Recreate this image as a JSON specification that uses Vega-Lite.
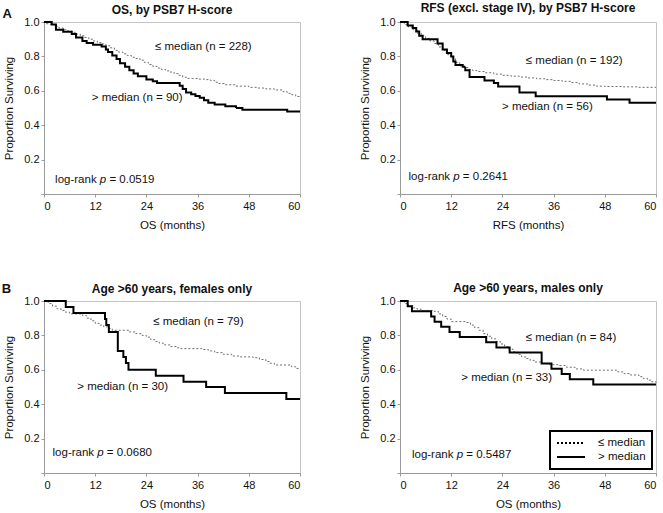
{
  "$schema": "https://vega.github.io/schema/vega-lite/v6.json",
  "padding": {"left": 1, "top": 1, "right": 0, "bottom": 0},
  "background": "white",
  "config": {
    "font": "Liberation Sans",
    "view": {"stroke": "#c4c4c4", "strokeWidth": 1},
    "title": {"font": "Liberation Sans", "fontSize": 12, "fontWeight": "bold", "color": "#111", "frame": "group"},
    "legend": {"strokeWidth": 2},
    "axis": {"grid": false, "domainColor": "#9a9a9a", "tickColor": "#9a9a9a", "tickSize": 3, "labelFont": "Liberation Sans", "labelFontSize": 11, "labelColor": "#111", "titleFont": "Liberation Sans", "titleFontSize": 11.5, "titleFontWeight": "normal", "titleColor": "#111"},
    "axisY": {"labelPadding": 2, "titlePadding": 9, "labelExpr": "datum.value > 0.05 ? format(datum.value, '.1f') : ''"},
    "axisX": {"labelPadding": 3, "titlePadding": 8},
    "text": {"font": "Liberation Sans", "fontSize": 11.5, "color": "#111", "align": "left", "baseline": "middle"}
  },
  "datasets": {
    "km": [
      {"p":1,"g":"≤ median","t":0,"s":1},{"p":1,"g":"≤ median","t":0.5,"s":0.99},{"p":1,"g":"≤ median","t":1.5,"s":0.985},{"p":1,"g":"≤ median","t":2.5,"s":0.975},{"p":1,"g":"≤ median","t":3.5,"s":0.965},{"p":1,"g":"≤ median","t":4.5,"s":0.955},{"p":1,"g":"≤ median","t":5.5,"s":0.948},{"p":1,"g":"≤ median","t":6.5,"s":0.94},{"p":1,"g":"≤ median","t":7.5,"s":0.93},{"p":1,"g":"≤ median","t":8.5,"s":0.92},{"p":1,"g":"≤ median","t":9.5,"s":0.91},{"p":1,"g":"≤ median","t":10.5,"s":0.9},{"p":1,"g":"≤ median","t":11.5,"s":0.89},{"p":1,"g":"≤ median","t":12.5,"s":0.88},{"p":1,"g":"≤ median","t":13.5,"s":0.872},{"p":1,"g":"≤ median","t":14.5,"s":0.862},{"p":1,"g":"≤ median","t":15.5,"s":0.85},{"p":1,"g":"≤ median","t":16.5,"s":0.835},{"p":1,"g":"≤ median","t":17.5,"s":0.825},{"p":1,"g":"≤ median","t":18.5,"s":0.815},{"p":1,"g":"≤ median","t":19.5,"s":0.805},{"p":1,"g":"≤ median","t":20.5,"s":0.795},{"p":1,"g":"≤ median","t":21.5,"s":0.788},{"p":1,"g":"≤ median","t":22.5,"s":0.778},{"p":1,"g":"≤ median","t":23.5,"s":0.765},{"p":1,"g":"≤ median","t":24.5,"s":0.753},{"p":1,"g":"≤ median","t":25.5,"s":0.742},{"p":1,"g":"≤ median","t":26.5,"s":0.732},{"p":1,"g":"≤ median","t":27.5,"s":0.724},{"p":1,"g":"≤ median","t":28.5,"s":0.716},{"p":1,"g":"≤ median","t":29.5,"s":0.709},{"p":1,"g":"≤ median","t":30.5,"s":0.7},{"p":1,"g":"≤ median","t":31.5,"s":0.69},{"p":1,"g":"≤ median","t":32.5,"s":0.679},{"p":1,"g":"≤ median","t":33.5,"s":0.672},{"p":1,"g":"≤ median","t":36,"s":0.668},{"p":1,"g":"≤ median","t":38,"s":0.665},{"p":1,"g":"≤ median","t":39,"s":0.66},{"p":1,"g":"≤ median","t":40,"s":0.65},{"p":1,"g":"≤ median","t":41,"s":0.642},{"p":1,"g":"≤ median","t":42.5,"s":0.635},{"p":1,"g":"≤ median","t":45,"s":0.627},{"p":1,"g":"≤ median","t":48,"s":0.62},{"p":1,"g":"≤ median","t":50,"s":0.616},{"p":1,"g":"≤ median","t":52,"s":0.611},{"p":1,"g":"≤ median","t":54,"s":0.605},{"p":1,"g":"≤ median","t":56,"s":0.595},{"p":1,"g":"≤ median","t":57,"s":0.585},{"p":1,"g":"≤ median","t":58,"s":0.577},{"p":1,"g":"≤ median","t":59,"s":0.567},{"p":1,"g":"≤ median","t":60,"s":0.56},
      {"p":1,"g":"> median","t":0,"s":1},{"p":1,"g":"> median","t":1.8,"s":0.985},{"p":1,"g":"> median","t":2.8,"s":0.955},{"p":1,"g":"> median","t":4.5,"s":0.943},{"p":1,"g":"> median","t":6.5,"s":0.93},{"p":1,"g":"> median","t":7.5,"s":0.91},{"p":1,"g":"> median","t":9,"s":0.89},{"p":1,"g":"> median","t":10,"s":0.878},{"p":1,"g":"> median","t":11.5,"s":0.868},{"p":1,"g":"> median","t":13.5,"s":0.858},{"p":1,"g":"> median","t":14.5,"s":0.84},{"p":1,"g":"> median","t":15,"s":0.825},{"p":1,"g":"> median","t":16,"s":0.805},{"p":1,"g":"> median","t":17,"s":0.785},{"p":1,"g":"> median","t":17.8,"s":0.76},{"p":1,"g":"> median","t":19,"s":0.74},{"p":1,"g":"> median","t":20,"s":0.72},{"p":1,"g":"> median","t":21,"s":0.7},{"p":1,"g":"> median","t":22,"s":0.685},{"p":1,"g":"> median","t":24,"s":0.665},{"p":1,"g":"> median","t":25.5,"s":0.655},{"p":1,"g":"> median","t":26.5,"s":0.645},{"p":1,"g":"> median","t":31.8,"s":0.63},{"p":1,"g":"> median","t":32.5,"s":0.61},{"p":1,"g":"> median","t":33.3,"s":0.59},{"p":1,"g":"> median","t":34.5,"s":0.58},{"p":1,"g":"> median","t":35.5,"s":0.57},{"p":1,"g":"> median","t":36.5,"s":0.56},{"p":1,"g":"> median","t":37.5,"s":0.545},{"p":1,"g":"> median","t":38.5,"s":0.53},{"p":1,"g":"> median","t":40,"s":0.52},{"p":1,"g":"> median","t":42.5,"s":0.51},{"p":1,"g":"> median","t":45,"s":0.5},{"p":1,"g":"> median","t":46.5,"s":0.49},{"p":1,"g":"> median","t":57,"s":0.48},{"p":1,"g":"> median","t":60,"s":0.48},
      {"p":2,"g":"≤ median","t":0,"s":1},{"p":2,"g":"≤ median","t":1,"s":0.985},{"p":2,"g":"≤ median","t":2,"s":0.97},{"p":2,"g":"≤ median","t":3,"s":0.955},{"p":2,"g":"≤ median","t":4,"s":0.935},{"p":2,"g":"≤ median","t":5,"s":0.92},{"p":2,"g":"≤ median","t":6,"s":0.905},{"p":2,"g":"≤ median","t":7,"s":0.89},{"p":2,"g":"≤ median","t":8,"s":0.875},{"p":2,"g":"≤ median","t":9,"s":0.855},{"p":2,"g":"≤ median","t":10,"s":0.835},{"p":2,"g":"≤ median","t":11,"s":0.81},{"p":2,"g":"≤ median","t":12,"s":0.79},{"p":2,"g":"≤ median","t":13,"s":0.765},{"p":2,"g":"≤ median","t":14,"s":0.745},{"p":2,"g":"≤ median","t":15,"s":0.735},{"p":2,"g":"≤ median","t":16,"s":0.725},{"p":2,"g":"≤ median","t":17,"s":0.718},{"p":2,"g":"≤ median","t":18,"s":0.712},{"p":2,"g":"≤ median","t":20,"s":0.705},{"p":2,"g":"≤ median","t":22,"s":0.697},{"p":2,"g":"≤ median","t":24,"s":0.69},{"p":2,"g":"≤ median","t":26,"s":0.685},{"p":2,"g":"≤ median","t":28,"s":0.68},{"p":2,"g":"≤ median","t":30,"s":0.675},{"p":2,"g":"≤ median","t":32,"s":0.67},{"p":2,"g":"≤ median","t":34,"s":0.665},{"p":2,"g":"≤ median","t":36,"s":0.66},{"p":2,"g":"≤ median","t":38,"s":0.655},{"p":2,"g":"≤ median","t":40,"s":0.648},{"p":2,"g":"≤ median","t":42,"s":0.64},{"p":2,"g":"≤ median","t":44,"s":0.633},{"p":2,"g":"≤ median","t":46,"s":0.627},{"p":2,"g":"≤ median","t":48,"s":0.625},{"p":2,"g":"≤ median","t":52,"s":0.623},{"p":2,"g":"≤ median","t":56,"s":0.62},{"p":2,"g":"≤ median","t":60,"s":0.62},
      {"p":2,"g":"> median","t":0,"s":1},{"p":2,"g":"> median","t":1.8,"s":0.98},{"p":2,"g":"> median","t":3,"s":0.965},{"p":2,"g":"> median","t":3.8,"s":0.945},{"p":2,"g":"> median","t":4.5,"s":0.92},{"p":2,"g":"> median","t":5.3,"s":0.9},{"p":2,"g":"> median","t":8.8,"s":0.875},{"p":2,"g":"> median","t":10,"s":0.84},{"p":2,"g":"> median","t":11,"s":0.82},{"p":2,"g":"> median","t":12,"s":0.8},{"p":2,"g":"> median","t":12.5,"s":0.77},{"p":2,"g":"> median","t":13,"s":0.75},{"p":2,"g":"> median","t":14.7,"s":0.74},{"p":2,"g":"> median","t":15.3,"s":0.72},{"p":2,"g":"> median","t":16.3,"s":0.68},{"p":2,"g":"> median","t":19.8,"s":0.66},{"p":2,"g":"> median","t":22,"s":0.645},{"p":2,"g":"> median","t":23,"s":0.625},{"p":2,"g":"> median","t":28,"s":0.59},{"p":2,"g":"> median","t":31.8,"s":0.568},{"p":2,"g":"> median","t":48.5,"s":0.55},{"p":2,"g":"> median","t":53.8,"s":0.53},{"p":2,"g":"> median","t":60,"s":0.53},
      {"p":3,"g":"≤ median","t":0,"s":1},{"p":3,"g":"≤ median","t":1,"s":0.985},{"p":3,"g":"≤ median","t":2,"s":0.97},{"p":3,"g":"≤ median","t":3,"s":0.955},{"p":3,"g":"≤ median","t":4,"s":0.945},{"p":3,"g":"≤ median","t":5,"s":0.935},{"p":3,"g":"≤ median","t":6,"s":0.925},{"p":3,"g":"≤ median","t":9,"s":0.915},{"p":3,"g":"≤ median","t":10,"s":0.9},{"p":3,"g":"≤ median","t":11,"s":0.885},{"p":3,"g":"≤ median","t":12,"s":0.87},{"p":3,"g":"≤ median","t":13,"s":0.86},{"p":3,"g":"≤ median","t":14,"s":0.85},{"p":3,"g":"≤ median","t":15,"s":0.84},{"p":3,"g":"≤ median","t":16,"s":0.83},{"p":3,"g":"≤ median","t":20,"s":0.82},{"p":3,"g":"≤ median","t":21.5,"s":0.81},{"p":3,"g":"≤ median","t":23,"s":0.8},{"p":3,"g":"≤ median","t":24,"s":0.79},{"p":3,"g":"≤ median","t":25,"s":0.775},{"p":3,"g":"≤ median","t":26,"s":0.765},{"p":3,"g":"≤ median","t":27,"s":0.755},{"p":3,"g":"≤ median","t":28,"s":0.745},{"p":3,"g":"≤ median","t":29.5,"s":0.735},{"p":3,"g":"≤ median","t":31,"s":0.728},{"p":3,"g":"≤ median","t":32,"s":0.723},{"p":3,"g":"≤ median","t":37,"s":0.718},{"p":3,"g":"≤ median","t":38.5,"s":0.71},{"p":3,"g":"≤ median","t":40,"s":0.7},{"p":3,"g":"≤ median","t":42,"s":0.69},{"p":3,"g":"≤ median","t":44,"s":0.68},{"p":3,"g":"≤ median","t":46,"s":0.675},{"p":3,"g":"≤ median","t":49,"s":0.67},{"p":3,"g":"≤ median","t":50.5,"s":0.66},{"p":3,"g":"≤ median","t":52,"s":0.648},{"p":3,"g":"≤ median","t":53,"s":0.638},{"p":3,"g":"≤ median","t":54,"s":0.628},{"p":3,"g":"≤ median","t":58,"s":0.618},{"p":3,"g":"≤ median","t":59,"s":0.608},{"p":3,"g":"≤ median","t":60,"s":0.605},
      {"p":3,"g":"> median","t":0,"s":1},{"p":3,"g":"> median","t":5.1,"s":0.965},{"p":3,"g":"> median","t":6.9,"s":0.93},{"p":3,"g":"> median","t":14.3,"s":0.895},{"p":3,"g":"> median","t":14.6,"s":0.86},{"p":3,"g":"> median","t":15.2,"s":0.82},{"p":3,"g":"> median","t":17.3,"s":0.71},{"p":3,"g":"> median","t":18.6,"s":0.675},{"p":3,"g":"> median","t":19.2,"s":0.64},{"p":3,"g":"> median","t":19.8,"s":0.6},{"p":3,"g":"> median","t":26.2,"s":0.565},{"p":3,"g":"> median","t":32.7,"s":0.53},{"p":3,"g":"> median","t":38,"s":0.5},{"p":3,"g":"> median","t":42.4,"s":0.465},{"p":3,"g":"> median","t":56.8,"s":0.43},{"p":3,"g":"> median","t":60,"s":0.43},
      {"p":4,"g":"≤ median","t":0,"s":1},{"p":4,"g":"≤ median","t":1,"s":0.985},{"p":4,"g":"≤ median","t":2,"s":0.972},{"p":4,"g":"≤ median","t":3,"s":0.96},{"p":4,"g":"≤ median","t":4,"s":0.952},{"p":4,"g":"≤ median","t":5,"s":0.945},{"p":4,"g":"≤ median","t":8,"s":0.94},{"p":4,"g":"≤ median","t":9,"s":0.925},{"p":4,"g":"≤ median","t":10,"s":0.91},{"p":4,"g":"≤ median","t":11,"s":0.895},{"p":4,"g":"≤ median","t":12,"s":0.88},{"p":4,"g":"≤ median","t":15.5,"s":0.875},{"p":4,"g":"≤ median","t":16.5,"s":0.86},{"p":4,"g":"≤ median","t":17.5,"s":0.845},{"p":4,"g":"≤ median","t":18.5,"s":0.83},{"p":4,"g":"≤ median","t":19.5,"s":0.81},{"p":4,"g":"≤ median","t":20.5,"s":0.795},{"p":4,"g":"≤ median","t":21.5,"s":0.78},{"p":4,"g":"≤ median","t":22.5,"s":0.765},{"p":4,"g":"≤ median","t":23.5,"s":0.75},{"p":4,"g":"≤ median","t":24.5,"s":0.735},{"p":4,"g":"≤ median","t":25.5,"s":0.72},{"p":4,"g":"≤ median","t":26.5,"s":0.705},{"p":4,"g":"≤ median","t":27.5,"s":0.69},{"p":4,"g":"≤ median","t":28.5,"s":0.675},{"p":4,"g":"≤ median","t":29.5,"s":0.665},{"p":4,"g":"≤ median","t":30.5,"s":0.655},{"p":4,"g":"≤ median","t":31.5,"s":0.645},{"p":4,"g":"≤ median","t":33,"s":0.637},{"p":4,"g":"≤ median","t":35,"s":0.63},{"p":4,"g":"≤ median","t":37,"s":0.625},{"p":4,"g":"≤ median","t":39,"s":0.615},{"p":4,"g":"≤ median","t":41,"s":0.605},{"p":4,"g":"≤ median","t":43,"s":0.598},{"p":4,"g":"≤ median","t":51,"s":0.588},{"p":4,"g":"≤ median","t":52.5,"s":0.578},{"p":4,"g":"≤ median","t":54,"s":0.57},{"p":4,"g":"≤ median","t":56,"s":0.56},{"p":4,"g":"≤ median","t":57,"s":0.55},{"p":4,"g":"≤ median","t":58,"s":0.54},{"p":4,"g":"≤ median","t":59,"s":0.53},{"p":4,"g":"≤ median","t":60,"s":0.525},
      {"p":4,"g":"> median","t":0,"s":1},{"p":4,"g":"> median","t":1.8,"s":0.97},{"p":4,"g":"> median","t":2.8,"s":0.94},{"p":4,"g":"> median","t":7.3,"s":0.91},{"p":4,"g":"> median","t":8.1,"s":0.88},{"p":4,"g":"> median","t":9.65,"s":0.85},{"p":4,"g":"> median","t":11.6,"s":0.82},{"p":4,"g":"> median","t":14,"s":0.79},{"p":4,"g":"> median","t":20.2,"s":0.76},{"p":4,"g":"> median","t":22.6,"s":0.73},{"p":4,"g":"> median","t":25.7,"s":0.7},{"p":4,"g":"> median","t":33.2,"s":0.636},{"p":4,"g":"> median","t":35.5,"s":0.606},{"p":4,"g":"> median","t":37.9,"s":0.576},{"p":4,"g":"> median","t":39.8,"s":0.545},{"p":4,"g":"> median","t":45.3,"s":0.515},{"p":4,"g":"> median","t":60,"s":0.515}
    ]
  },
  "columns": 2,
  "bounds": "flush",
  "spacing": {"row": 107, "column": 100},
  "resolve": {"scale": {"strokeDash": "independent"}, "legend": {"strokeDash": "independent"}},
  "concat": [
    {
      "width": 256, "height": 172,
      "title": {"text": "OS, by PSB7 H-score", "offset": -9},
      "layer": [
        {
          "data": {"name": "km"},
          "transform": [{"filter": "datum.p === 1"}],
          "mark": {"type": "line", "interpolate": "step-after"},
          "encoding": {
            "x": {"field": "t", "type": "quantitative", "scale": {"domain": [0, 60], "nice": false}, "axis": {"title": "OS (months)", "values": [0, 6, 12, 18, 24, 30, 36, 42, 48, 54, 60], "labelExpr": "datum.value % 12 === 0 ? datum.label : ''"}},
            "y": {"field": "s", "type": "quantitative", "scale": {"domain": [0, 1], "nice": false}, "axis": {"title": "Proportion Surviving", "tickCount": 5}},
            "strokeDash": {"field": "g", "type": "nominal", "scale": {"domain": ["≤ median", "> median"], "range": [[2, 2], [1, 0]]}, "legend": null},
            "color": {"condition": {"test": "datum.g === '> median'", "value": "#000"}, "value": "#6e6e6e"},
            "strokeWidth": {"condition": {"test": "datum.g === '> median'", "value": 2}, "value": 1}
          }
        },
        {"data": {"values": [{}]}, "mark": {"type": "text", "text": "≤ median (n = 228)"}, "encoding": {"x": {"datum": 26}, "y": {"datum": 0.853}}},
        {"data": {"values": [{}]}, "mark": {"type": "text", "text": "> median (n = 90)"}, "encoding": {"x": {"datum": 11.2}, "y": {"datum": 0.558}}},
        {"data": {"values": [{}]}, "mark": {"type": "text", "text": "log-rank"}, "encoding": {"x": {"datum": 2.6}, "y": {"datum": 0.083}}},
        {"data": {"values": [{}]}, "mark": {"type": "text", "text": "p", "fontStyle": "italic", "dx": 44.7}, "encoding": {"x": {"datum": 2.6}, "y": {"datum": 0.083}}},
        {"data": {"values": [{}]}, "mark": {"type": "text", "text": "= 0.0519", "dx": 54.3}, "encoding": {"x": {"datum": 2.6}, "y": {"datum": 0.083}}},
        {"data": {"values": [{}]}, "mark": {"type": "text", "text": "A", "fontWeight": "bold", "fontSize": 13, "align": "center"}, "encoding": {"x": {"datum": -8.6}, "y": {"datum": 1.047}}}
      ]
    },
    {
      "width": 256, "height": 172,
      "title": {"text": "RFS (excl. stage IV), by PSB7 H-score", "offset": 1},
      "layer": [
        {
          "data": {"name": "km"},
          "transform": [{"filter": "datum.p === 2"}],
          "mark": {"type": "line", "interpolate": "step-after"},
          "encoding": {
            "x": {"field": "t", "type": "quantitative", "scale": {"domain": [0, 60], "nice": false}, "axis": {"title": "RFS (months)", "values": [0, 6, 12, 18, 24, 30, 36, 42, 48, 54, 60], "labelExpr": "datum.value % 12 === 0 ? datum.label : ''"}},
            "y": {"field": "s", "type": "quantitative", "scale": {"domain": [0, 1], "nice": false}, "axis": {"title": "Proportion Surviving", "tickCount": 5}},
            "strokeDash": {"field": "g", "type": "nominal", "scale": {"domain": ["≤ median", "> median"], "range": [[2, 2], [1, 0]]}, "legend": null},
            "color": {"condition": {"test": "datum.g === '> median'", "value": "#000"}, "value": "#6e6e6e"},
            "strokeWidth": {"condition": {"test": "datum.g === '> median'", "value": 2}, "value": 1}
          }
        },
        {"data": {"values": [{}]}, "mark": {"type": "text", "text": "≤ median (n = 192)"}, "encoding": {"x": {"datum": 29.5}, "y": {"datum": 0.775}}},
        {"data": {"values": [{}]}, "mark": {"type": "text", "text": "> median (n = 56)"}, "encoding": {"x": {"datum": 23.9}, "y": {"datum": 0.504}}},
        {"data": {"values": [{}]}, "mark": {"type": "text", "text": "log-rank"}, "encoding": {"x": {"datum": 2.0}, "y": {"datum": 0.097}}},
        {"data": {"values": [{}]}, "mark": {"type": "text", "text": "p", "fontStyle": "italic", "dx": 44.7}, "encoding": {"x": {"datum": 2.0}, "y": {"datum": 0.097}}},
        {"data": {"values": [{}]}, "mark": {"type": "text", "text": "= 0.2641", "dx": 54.3}, "encoding": {"x": {"datum": 2.0}, "y": {"datum": 0.097}}}
      ]
    },
    {
      "width": 256, "height": 172,
      "title": {"text": "Age >60 years, females only", "offset": -13},
      "layer": [
        {
          "data": {"name": "km"},
          "transform": [{"filter": "datum.p === 3"}],
          "mark": {"type": "line", "interpolate": "step-after"},
          "encoding": {
            "x": {"field": "t", "type": "quantitative", "scale": {"domain": [0, 60], "nice": false}, "axis": {"title": "OS (months)", "values": [0, 6, 12, 18, 24, 30, 36, 42, 48, 54, 60], "labelExpr": "datum.value % 12 === 0 ? datum.label : ''"}},
            "y": {"field": "s", "type": "quantitative", "scale": {"domain": [0, 1], "nice": false}, "axis": {"title": "Proportion Surviving", "tickCount": 5}},
            "strokeDash": {"field": "g", "type": "nominal", "scale": {"domain": ["≤ median", "> median"], "range": [[2, 2], [1, 0]]}, "legend": null},
            "color": {"condition": {"test": "datum.g === '> median'", "value": "#000"}, "value": "#6e6e6e"},
            "strokeWidth": {"condition": {"test": "datum.g === '> median'", "value": 2}, "value": 1}
          }
        },
        {"data": {"values": [{}]}, "mark": {"type": "text", "text": "≤ median (n = 79)"}, "encoding": {"x": {"datum": 25.6}, "y": {"datum": 0.878}}},
        {"data": {"values": [{}]}, "mark": {"type": "text", "text": "> median (n = 30)"}, "encoding": {"x": {"datum": 7.8}, "y": {"datum": 0.5}}},
        {"data": {"values": [{}]}, "mark": {"type": "text", "text": "log-rank"}, "encoding": {"x": {"datum": 2.0}, "y": {"datum": 0.116}}},
        {"data": {"values": [{}]}, "mark": {"type": "text", "text": "p", "fontStyle": "italic", "dx": 44.7}, "encoding": {"x": {"datum": 2.0}, "y": {"datum": 0.116}}},
        {"data": {"values": [{}]}, "mark": {"type": "text", "text": "= 0.0680", "dx": 54.3}, "encoding": {"x": {"datum": 2.0}, "y": {"datum": 0.116}}},
        {"data": {"values": [{}]}, "mark": {"type": "text", "text": "B", "fontWeight": "bold", "fontSize": 13, "align": "center"}, "encoding": {"x": {"datum": -8.8}, "y": {"datum": 1.072}}}
      ]
    },
    {
      "width": 256, "height": 172,
      "title": {"text": "Age >60 years, males only", "offset": 0},
      "layer": [
        {
          "data": {"name": "km"},
          "transform": [{"filter": "datum.p === 4"}],
          "mark": {"type": "line", "interpolate": "step-after"},
          "encoding": {
            "x": {"field": "t", "type": "quantitative", "scale": {"domain": [0, 60], "nice": false}, "axis": {"title": "OS (months)", "values": [0, 6, 12, 18, 24, 30, 36, 42, 48, 54, 60], "labelExpr": "datum.value % 12 === 0 ? datum.label : ''"}},
            "y": {"field": "s", "type": "quantitative", "scale": {"domain": [0, 1], "nice": false}, "axis": {"title": "Proportion Surviving", "tickCount": 5}},
            "strokeDash": {"field": "g", "type": "nominal", "scale": {"domain": ["≤ median", "> median"], "range": [[2, 2], [1, 0]]},
              "legend": {"title": null, "orient": "bottom-right", "offset": 4, "strokeColor": "#000", "fillColor": "#fff", "padding": 6, "rowPadding": 2, "symbolType": "M-1,0H4.6", "symbolSize": 100, "symbolStrokeWidth": 2, "symbolStrokeColor": "#000", "labelFont": "Liberation Sans", "labelFontSize": 11.5, "labelColor": "#111", "labelOffset": 30}},
            "color": {"condition": {"test": "datum.g === '> median'", "value": "#000"}, "value": "#6e6e6e"},
            "strokeWidth": {"condition": {"test": "datum.g === '> median'", "value": 2}, "value": 1}
          }
        },
        {"data": {"values": [{}]}, "mark": {"type": "text", "text": "≤ median (n = 84)"}, "encoding": {"x": {"datum": 29.5}, "y": {"datum": 0.787}}},
        {"data": {"values": [{}]}, "mark": {"type": "text", "text": "> median (n = 33)"}, "encoding": {"x": {"datum": 14.35}, "y": {"datum": 0.552}}},
        {"data": {"values": [{}]}, "mark": {"type": "text", "text": "log-rank"}, "encoding": {"x": {"datum": 2.8}, "y": {"datum": 0.107}}},
        {"data": {"values": [{}]}, "mark": {"type": "text", "text": "p", "fontStyle": "italic", "dx": 44.7}, "encoding": {"x": {"datum": 2.8}, "y": {"datum": 0.107}}},
        {"data": {"values": [{}]}, "mark": {"type": "text", "text": "= 0.5487", "dx": 54.3}, "encoding": {"x": {"datum": 2.8}, "y": {"datum": 0.107}}}
      ]
    }
  ]
}
